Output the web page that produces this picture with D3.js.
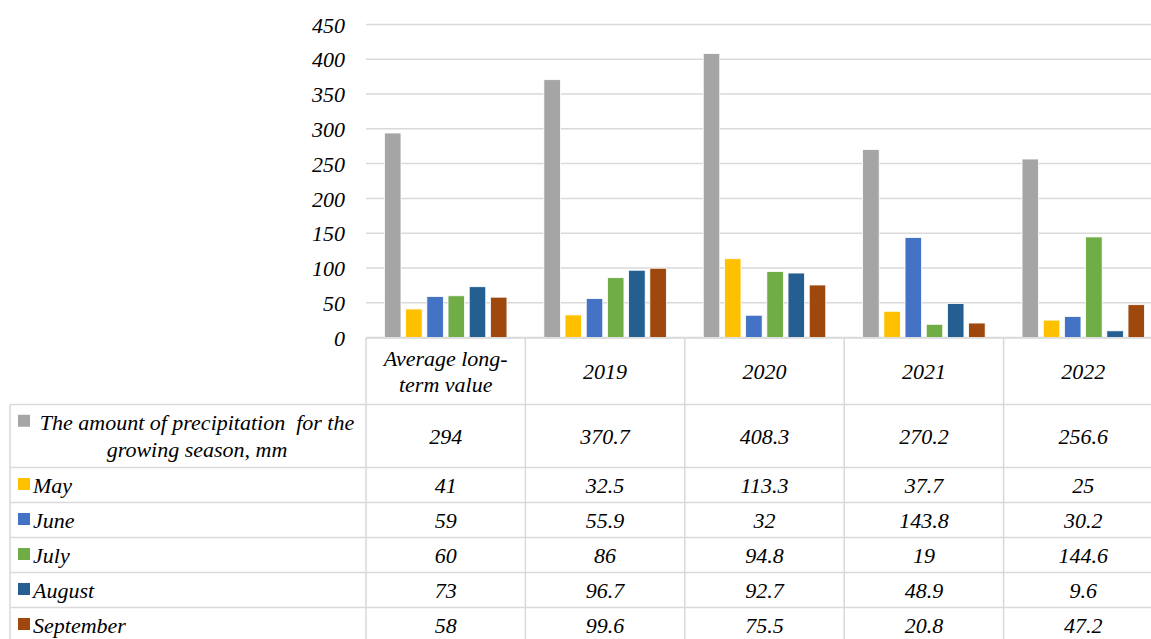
<!DOCTYPE html>
<html>
<head>
<meta charset="utf-8">
<script src="https://cdn.jsdelivr.net/npm/d3@7/dist/d3.min.js"></script>
<style>
  html, body { margin: 0; padding: 0; background: #ffffff; }
  svg { display: block; }
</style>
</head>
<body>
<svg id="chart" width="1151" height="639"></svg>
<script>
// ---- data ----
const categories = ["Average long-term value", "2019", "2020", "2021", "2022"];
const seriesNames = [
  "The amount of precipitation  for the growing season, mm",
  "May", "June", "July", "August", "September"
];
const seasonTotal = [294, 370.7, 408.3, 270.2, 256.6];
const may = [41, 32.5, 113.3, 37.7, 25];
const june = [59, 55.9, 32, 143.8, 30.2];
const july = [60, 86, 94.8, 19, 144.6];
const august = [73, 96.7, 92.7, 48.9, 9.6];
const september = [58, 99.6, 75.5, 20.8, 47.2];
const yTicks = [0, 50, 100, 150, 200, 250, 300, 350, 400, 450];
const seriesColors = ["#a5a5a5", "#ffc000", "#4472c4", "#70ad47", "#255e91", "#9e480e"];

const seriesValues = [seasonTotal, may, june, july, august, september];
const series = seriesNames.map((name, i) => ({ name, color: seriesColors[i], values: seriesValues[i] }));

// ---- layout ----
const FONT = "Liberation Serif";
const svg = d3.select("#chart").attr("font-family", FONT).attr("font-style", "italic");
const plotLeft = 366, catStep = 159.4;
const plotRight = plotLeft + catStep * categories.length;
const yTop = 24.5, yBottom = 337.5;
const fontSize = 22;
const gridColor = "#d9d9d9";

const x0 = d3.scaleBand().domain(categories).range([plotLeft, plotRight]).padding(0);
const x1 = d3.scaleBand().domain(d3.range(series.length))
  .range([0, x0.bandwidth()]).paddingInner(0.22).paddingOuter(0.87);
const y = d3.scaleLinear().domain([0, 450]).range([yBottom, yTop]);

function txt(sel) {
  return sel.append("text").attr("font-family", FONT).attr("font-style", "italic")
    .attr("font-size", fontSize).attr("fill", "#000");
}

// gridlines
svg.append("g").selectAll("line").data(yTicks).join("line")
  .attr("x1", plotLeft).attr("x2", plotRight)
  .attr("y1", d => y(d)).attr("y2", d => y(d))
  .attr("stroke", gridColor).attr("stroke-width", 1.5);

// y axis labels
const yAxis = d3.axisLeft(y).tickValues(yTicks).tickSize(0).tickPadding(0).tickFormat(d3.format("d"));
const yg = svg.append("g").attr("transform", `translate(345,0)`).call(yAxis)
  .attr("font-family", FONT).attr("font-size", fontSize);
yg.select(".domain").remove();
yg.selectAll("text").attr("font-family", FONT).attr("font-style", "italic").attr("font-size", fontSize)
  .attr("fill", "#000").attr("dy", "0.35em").attr("text-anchor", "end").attr("x", 0);

// bars
const groups = svg.append("g").selectAll("g").data(categories).join("g")
  .attr("transform", d => `translate(${x0(d)},0)`);
groups.selectAll("rect").data((c, ci) => series.map((s, si) => ({ si, v: s.values[ci], color: s.color })))
  .join("rect")
  .attr("x", d => x1(d.si)).attr("width", x1.bandwidth())
  .attr("y", d => y(d.v)).attr("height", d => y(0) - y(d.v))
  .attr("fill", d => d.color).attr("stroke", "#ffffff").attr("stroke-width", 0.8);

// ---- data table ----
const headerTop = 338, headerBottom = 404.5;
const firstRowH = 63, rowH = 35;
const rowTops = series.map((s, i) => headerBottom + (i === 0 ? 0 : firstRowH + (i - 1) * rowH));
const rowHeights = series.map((s, i) => i === 0 ? firstRowH : rowH);
const tableBottom = rowTops[rowTops.length - 1] + rowH;
const tableLeft = 10;

const tg = svg.append("g");
tg.append("line").attr("x1", plotLeft).attr("x2", plotRight).attr("y1", headerTop).attr("y2", headerTop)
  .attr("stroke", gridColor).attr("stroke-width", 1.5);
const hLines = rowTops.concat([tableBottom]);
tg.selectAll("line.h").data(hLines).join("line").attr("class", "h")
  .attr("x1", tableLeft).attr("x2", plotRight).attr("y1", d => d).attr("y2", d => d)
  .attr("stroke", gridColor).attr("stroke-width", 1.5);
const vBounds = categories.map(c => x0(c)).concat([plotRight]);
tg.selectAll("line.v").data(vBounds).join("line").attr("class", "v")
  .attr("x1", d => d).attr("x2", d => d).attr("y1", headerTop).attr("y2", tableBottom)
  .attr("stroke", gridColor).attr("stroke-width", 1.5);
tg.append("line").attr("x1", tableLeft).attr("x2", tableLeft).attr("y1", headerBottom).attr("y2", tableBottom)
  .attr("stroke", gridColor).attr("stroke-width", 1.5);

// wrap helper
function wrapTokens(text, maxW, measure) {
  const tokens = text.match(/[^\s-]+-?|\s+/g) || [text];
  const lines = []; let cur = "";
  tokens.forEach(t => {
    const trial = cur + t;
    if (cur.trim() !== "" && measure(trial.trimEnd()) > maxW) { lines.push(cur.trimEnd()); cur = t.trimStart(); }
    else cur = trial;
  });
  if (cur.trim() !== "") lines.push(cur.trimEnd());
  return lines;
}
const measurer = txt(svg).style("white-space", "pre");
const measure = s => { measurer.text(s); return measurer.node().getComputedTextLength(); };

const lineH = 26.5;
categories.forEach(c => {
  const lines = wrapTokens(c, catStep - 20, measure);
  const cx = x0(c) + catStep / 2;
  const cy = (headerTop + headerBottom) / 2;
  const t = txt(tg).attr("text-anchor", "middle");
  lines.forEach((l, i) => {
    t.append("tspan").attr("x", cx)
      .attr("y", cy + (i - (lines.length - 1) / 2) * lineH).attr("dy", "0.35em").text(l);
  });
});

series.forEach((s, si) => {
  const top = rowTops[si], h = rowHeights[si];
  const cy = top + h / 2;
  const lines = wrapTokens(s.name, 335, measure);
  if (lines.length > 1) {
    const t = txt(tg).attr("text-anchor", "middle").style("white-space", "pre");
    lines.forEach((l, i) => {
      t.append("tspan").attr("x", 197).attr("y", cy + (i - (lines.length - 1) / 2) * lineH).attr("dy", "0.35em").text(l);
    });
    tg.append("rect").attr("x", 18).attr("y", cy - (lines.length - 1) / 2 * lineH - 8).attr("width", 12).attr("height", 12).attr("fill", s.color);
  } else {
    tg.append("rect").attr("x", 18).attr("y", cy - 7).attr("width", 12).attr("height", 12).attr("fill", s.color);
    txt(tg).attr("x", 33).attr("y", cy).attr("dy", "0.35em").text(s.name);
  }
  categories.forEach((c, ci) => {
    txt(tg).attr("text-anchor", "middle")
      .attr("x", x0(c) + catStep / 2).attr("y", cy).attr("dy", "0.35em").text(s.values[ci]);
  });
});
measurer.remove();
</script>
</body>
</html>
